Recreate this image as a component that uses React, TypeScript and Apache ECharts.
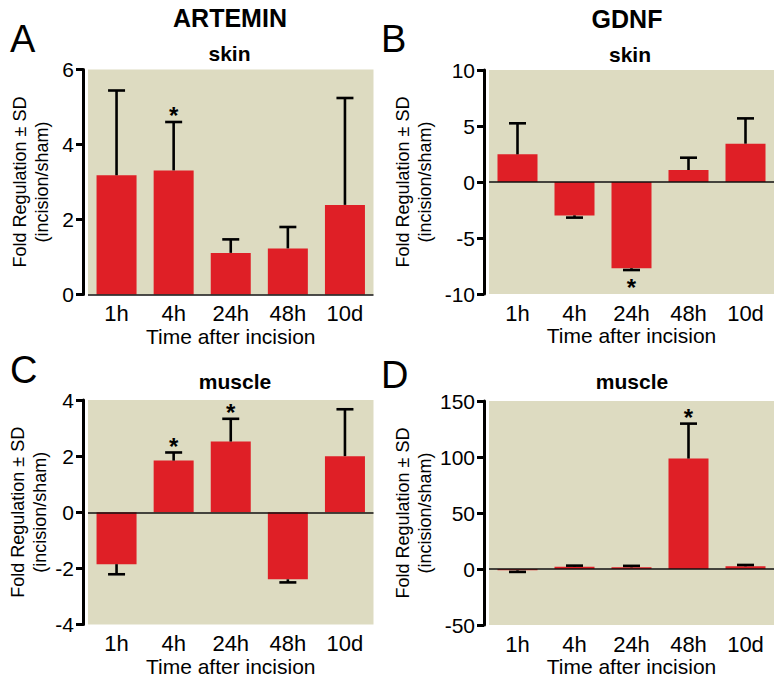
import React, { useEffect, useRef } from 'react';
import * as echarts from 'echarts';

const categories = ['1h', '4h', '24h', '48h', '10d'];

// ARTEMIN skin (panel A)
const artSkinMean = [3.18, 3.31, 1.11, 1.23, 2.39];
const artSkinSD = [2.26, 1.29, 0.36, 0.57, 2.85];
const artSkinSig = [0, 1, 0, 0, 0];

// GDNF skin (panel B)
const gdnfSkinMean = [2.47, -2.98, -7.7, 1.07, 3.42];
const gdnfSkinSD = [2.77, 0.2, 0.16, 1.1, 2.26];
const gdnfSkinSig = [0, 0, 1, 0, 0];

// ARTEMIN muscle (panel C)
const artMuscleMean = [-1.85, 1.84, 2.52, -2.39, 2.0];
const artMuscleSD = [0.36, 0.29, 0.81, 0.11, 1.67];
const artMuscleSig = [0, 1, 1, 0, 0];

// GDNF muscle (panel D)
const gdnfMuscleMean = [-1.2, 2.0, 1.5, 98.6, 2.4];
const gdnfMuscleSD = [1.4, 1.0, 1.3, 31.2, 1.2];
const gdnfMuscleSig = [0, 0, 0, 1, 0];

const yRanges = [
  { min: 0, max: 6, interval: 2 },
  { min: -10, max: 10, interval: 5 },
  { min: -4, max: 4, interval: 2 },
  { min: -50, max: 150, interval: 50 },
];

const FONT = '"Liberation Sans", Arial, Helvetica, sans-serif';
const BG = '#DDDBC1';
const RED = '#DF1F26';

const panels = [
  { mean: artSkinMean, sd: artSkinSD, sig: artSkinSig, nameGap: 30 },
  { mean: gdnfSkinMean, sd: gdnfSkinSD, sig: gdnfSkinSig, nameGap: 48 },
  { mean: artMuscleMean, sd: artMuscleSD, sig: artMuscleSig, nameGap: 30 },
  { mean: gdnfMuscleMean, sd: gdnfMuscleSD, sig: gdnfMuscleSig, nameGap: 48 },
];

const grids = [
  { left: 88, top: 69.5, width: 285.5, height: 225 },
  { left: 489, top: 70, width: 285, height: 224 },
  { left: 88, top: 400, width: 285.5, height: 224.5 },
  { left: 489, top: 401, width: 285, height: 224 },
];

const STAR_SIZE = 24;

function buildOption() {
  const grid = grids.map((g) => ({
    ...g,
    show: true,
    backgroundColor: BG,
    borderWidth: 0,
    containLabel: false,
  }));
  const xAxis = grids.map((_, i) => ({
    gridIndex: i,
    type: 'category',
    data: categories,
    axisLine: { show: false, onZero: false },
    axisTick: { show: false },
    axisLabel: { fontSize: 22, color: '#000', margin: 8, fontFamily: FONT },
    name: 'Time after incision',
    nameLocation: 'middle',
    nameGap: 31,
    nameTextStyle: { fontSize: 21, color: '#000', fontFamily: FONT },
  }));
  const yAxis = panels.map((p, i) => ({
    gridIndex: i,
    type: 'value',
    min: yRanges[i].min,
    max: yRanges[i].max,
    interval: yRanges[i].interval,
    offset: 5,
    axisLine: { show: true, onZero: false, lineStyle: { color: '#000', width: 3 } },
    axisTick: { show: true, length: 7, lineStyle: { color: '#000', width: 3 } },
    axisLabel: { fontSize: 21, color: '#000', margin: 9, fontFamily: FONT },
    splitLine: { show: false },
    name: 'Fold Regulation ± SD\n(incision/sham)',
    nameLocation: 'middle',
    nameRotate: 90,
    nameGap: p.nameGap,
    nameTextStyle: { fontSize: 18, lineHeight: 22, color: '#000', fontFamily: FONT },
  }));

  const series: any[] = [];
  panels.forEach((p, i) => {
    series.push({
      type: 'bar',
      xAxisIndex: i,
      yAxisIndex: i,
      data: p.mean,
      barWidth: 40,
      itemStyle: { color: RED },
      z: 2,
      markLine: {
        silent: true,
        symbol: 'none',
        label: { show: false },
        lineStyle: { color: '#111', width: 1.5, type: 'solid' },
        data: [{ yAxis: 0 }],
        z: 3,
      },
    });
    series.push({
      type: 'custom',
      xAxisIndex: i,
      yAxisIndex: i,
      z: 4,
      encode: { x: 0, y: 1 },
      data: p.mean.map((m, k) => [k, m, m + (m >= 0 ? 1 : -1) * p.sd[k], p.sig[k]]),
      renderItem: (params: any, api: any) => {
        const idx = api.value(0);
        const v = api.value(1);
        const e = api.value(2);
        const sig = api.value(3);
        const p0 = api.coord([idx, v]);
        const p1 = api.coord([idx, e]);
        const half = 8.5;
        const stroke = { stroke: '#000', lineWidth: 2.6 };
        const children: any[] = [
          { type: 'line', shape: { x1: p0[0], y1: p0[1], x2: p1[0], y2: p1[1] }, style: stroke },
          { type: 'line', shape: { x1: p1[0] - half, y1: p1[1], x2: p1[0] + half, y2: p1[1] }, style: stroke },
        ];
        if (sig) {
          const up = e >= v;
          const glyphShift = 0.2 * STAR_SIZE;
          const y = up ? p1[1] - 11 + glyphShift : p1[1] + 12.5 + glyphShift;
          children.push({
            type: 'text',
            style: {
              text: '*',
              x: p1[0],
              y,
              align: 'center',
              verticalAlign: 'middle',
              fontSize: STAR_SIZE,
              fontWeight: 'bold',
              fontFamily: FONT,
              fill: '#000',
            },
          });
        }
        return { type: 'group', children };
      },
    });
  });

  const txt = (text: string, x: number, y: number, size: number, bold: boolean, align: string) => ({
    type: 'text',
    x,
    y,
    style: {
      text,
      fontSize: size,
      fontWeight: bold ? 'bold' : 'normal',
      fontFamily: FONT,
      fill: '#000',
      align,
      verticalAlign: 'middle',
    },
  });

  const graphic = [
    txt('A', 10, 39, 38, false, 'left'),
    txt('B', 381, 39, 38, false, 'left'),
    txt('C', 10, 370, 38, false, 'left'),
    txt('D', 381, 375, 38, false, 'left'),
    txt('ARTEMIN', 230, 18, 25, true, 'center'),
    txt('GDNF', 627, 19, 25, true, 'center'),
    txt('skin', 229.5, 53, 21, true, 'center'),
    txt('skin', 630, 54, 21, true, 'center'),
    txt('muscle', 235, 381, 21, true, 'center'),
    txt('muscle', 632, 381, 21, true, 'center'),
  ];

  return {
    animation: false,
    backgroundColor: '#fff',
    textStyle: { fontFamily: FONT },
    grid,
    xAxis,
    yAxis,
    series,
    graphic,
  };
}

export default function App() {
  const ref = useRef<HTMLDivElement>(null);
  useEffect(() => {
    const chart = echarts.init(ref.current!, null, { renderer: 'svg' });
    chart.setOption(buildOption() as any);
    return () => chart.dispose();
  }, []);
  return (
    <div
      ref={ref}
      style={{ position: 'absolute', left: 0, top: 0, width: 784, height: 681 }}
    />
  );
}
